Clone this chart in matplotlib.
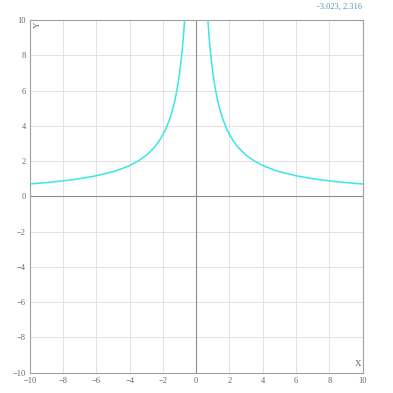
import matplotlib
matplotlib.use("Agg")
import matplotlib.pyplot as plt
plt.rcParams["font.family"] = ["Liberation Serif", "DejaVu Serif"]

# Points (right branch; left branch mirrors it)
x_right = [0.7, 0.75, 0.8, 0.85, 0.9, 1.0, 1.1, 1.2, 1.3, 1.4, 1.5, 1.6, 1.8,
           2.0, 2.25, 2.5, 2.75, 3.0, 3.5, 4.0, 4.5, 5.0, 6.0, 7.0, 8.0, 9.0, 10.0]
y_right = [10.0, 9.33, 8.75, 8.24, 7.78, 7.0, 6.36, 5.83, 5.38, 5.0, 4.67, 4.38, 3.89,
           3.5, 3.11, 2.8, 2.55, 2.33, 2.0, 1.75, 1.56, 1.4, 1.17, 1.0, 0.875, 0.78, 0.7]
x_left = [-v for v in x_right]
y_left = list(y_right)

ticks = [-10, -8, -6, -4, -2, 0, 2, 4, 6, 8, 10]
readout = "-3.023, 2.316"

fig = plt.figure(figsize=(3.93, 3.93), dpi=100)
ax = fig.add_axes([0.0763, 0.0517, 0.8461, 0.8975])

curve_color = "#38e6e6"
ax.plot(x_left, y_left, color=curve_color, linewidth=1.1, zorder=3)
ax.plot(x_right, y_right, color=curve_color, linewidth=1.1, zorder=3)

# zero axes
ax.axhline(0, color="#8c8c8c", linewidth=0.8, zorder=2)
ax.axvline(0, color="#8c8c8c", linewidth=0.8, zorder=2)

ax.set_xlim(-10, 10)
ax.set_ylim(-10, 10)
ax.set_xticks(ticks)
ax.set_yticks(ticks)
ax.grid(True, color="#dedede", linewidth=0.6, zorder=1)
ax.tick_params(length=0, labelsize=6, labelcolor="#666666", pad=3)

for s in ax.spines.values():
    s.set_color("#a0a0a0")
    s.set_linewidth(0.8)

ax.text(-9.55, 9.75, "Y", rotation=90, fontsize=6.5, color="#666666",
        ha="center", va="center")
ax.text(9.75, -9.5, "X", fontsize=6.5, color="#666666", ha="center", va="center")

fig.text(0.922, 0.982, readout, fontsize=6, color="#5b8db0",
         ha="right", va="center")

plt.savefig("out.png", dpi=100)
